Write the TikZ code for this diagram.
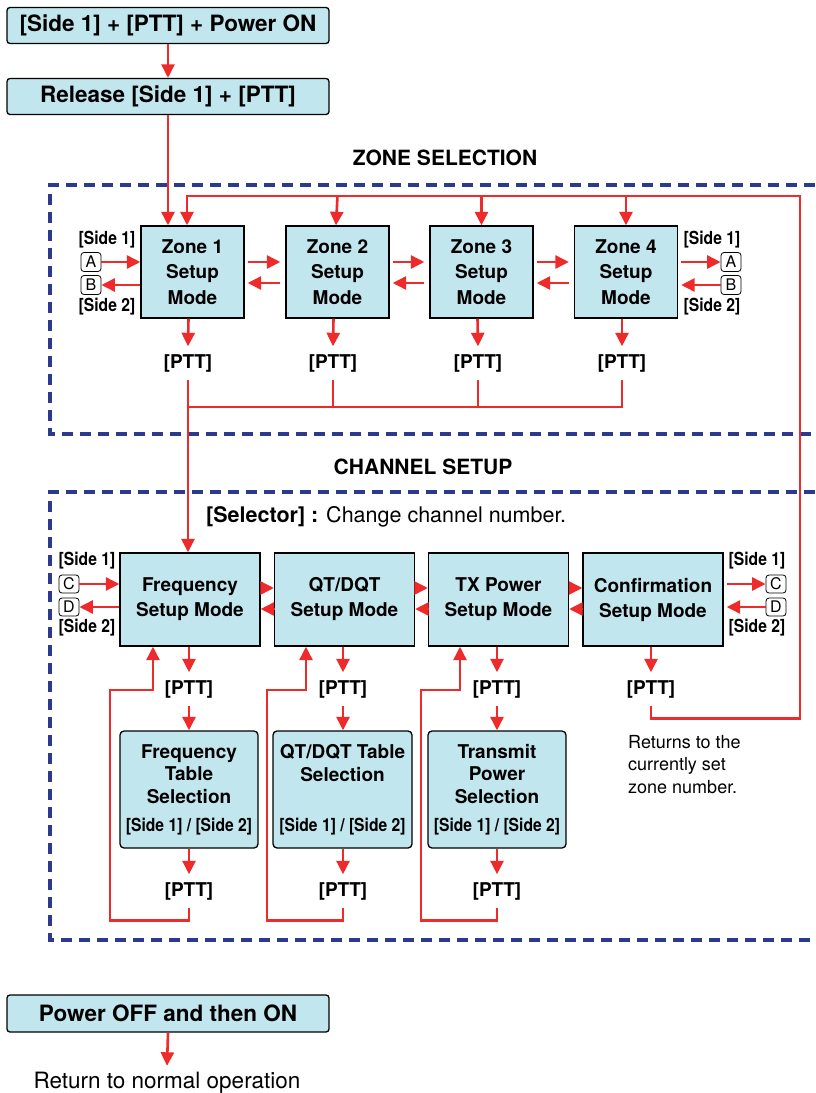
\documentclass[tikz,border=0pt]{standalone}
\usepackage{fontspec}
\setmainfont{TeX Gyre Heros}
\newfontfamily\condfont[FakeStretch=0.87]{TeX Gyre Heros}
\usetikzlibrary{arrows.meta,calc}
\definecolor{boxfill}{HTML}{C2E6EE}
\definecolor{arrred}{HTML}{EE2A2A}
\definecolor{dashblue}{HTML}{2B3A8F}
\begin{document}
\begin{tikzpicture}[x=1pt,y=-1pt,
  arr/.style={draw=arrred, line width=2.6pt, -{Triangle[length=13.5pt,width=13pt]}},
  ln/.style={draw=arrred, line width=2.6pt},
  frame/.style={draw=dashblue, line width=3.2pt, dash pattern=on 11pt off 7pt},
  topbox/.style={draw=black, line width=1.3pt, fill=boxfill, rounded corners=3pt, minimum width=322pt, minimum height=36pt, inner sep=0pt, font=\fontsize{22.5}{26}\selectfont\bfseries},
  zonebox/.style={draw=black, line width=1.3pt, fill=boxfill, minimum width=103pt, minimum height=92pt, inner sep=0pt, align=center, font=\fontsize{19}{25.5}\selectfont\bfseries},
  chbox/.style={draw=black, line width=1.3pt, fill=boxfill, minimum width=140pt, minimum height=93pt, inner sep=0pt, align=center, font=\fontsize{19}{25}\selectfont\bfseries},
  tabbox/.style={draw=black, line width=1.3pt, fill=boxfill, rounded corners=4pt, minimum width=138pt, minimum height=117pt, inner sep=0pt},
  tabtxt/.style={align=center, inner sep=0pt, font=\fontsize{19}{22.5}\selectfont\bfseries},
  sidetxt/.style={inner sep=0pt, font=\fontsize{18}{20}\selectfont\condfont\bfseries},
  keybox/.style={draw=black, line width=0.8pt, rounded corners=3pt, minimum width=20pt, minimum height=19pt, inner sep=0pt, font=\fontsize{16}{18}\selectfont},
  ptt/.style={inner sep=0pt, minimum height=33pt, font=\fontsize{19}{22}\selectfont\bfseries},
  title/.style={inner sep=0pt, font=\fontsize{21}{24}\selectfont\bfseries},
  plain/.style={inner sep=0pt, font=\fontsize{18}{22.5}\selectfont}
]
\useasboundingbox (0,0) rectangle (815,1093);

% frames
\draw[frame] (815,185) -- (50,185) -- (50,434) -- (815,434);
\draw[frame] (815,492) -- (50,492) -- (50,940) -- (815,940);

% top boxes
\node[topbox] (t1) at (168,25.5) {[Side 1] + [PTT] + Power ON};
\node[topbox] (t2) at (168,96.5) {Release [Side 1] + [PTT]};
\draw[arr] (t1.south) -- (t2.north);

\node[title] (zt) at (445,158) {ZONE SELECTION};

% zones
\node[zonebox] (z1) at (192.5,272) {Zone 1\\Setup\\Mode};
\node[zonebox] (z2) at (337.5,272) {Zone 2\\Setup\\Mode};
\node[zonebox] (z3) at (481.5,272) {Zone 3\\Setup\\Mode};
\node[zonebox] (z4) at (626,272) {Zone 4\\Setup\\Mode};

\draw[arr] (t2.south) -- (t2.south |- z1.north);

\foreach \a/\b in {z1/z2,z2/z3,z3/z4}{
  \draw[arr, shorten <=3pt, shorten >=5pt] ([yshift=10pt]\a.east) -- ([yshift=10pt]\b.west);
  \draw[arr, shorten <=5pt, shorten >=3pt] ([yshift=-11pt]\b.west) -- ([yshift=-11pt]\a.east);
}

% zone side keys
\node[sidetxt] (s1a) at (107,240) {[Side 1]};
\node[keybox] (ka1) at (91,262) {A};
\node[keybox] (kb1) at (91,285) {B};
\node[sidetxt] (s2a) at (107,307) {[Side 2]};
\draw[arr] (ka1.east) -- (ka1.east -| z1.west);
\draw[arr] (kb1.east -| z1.west) -- (kb1.east);

\node[sidetxt] (s1b) at (712,240) {[Side 1]};
\node[keybox] (ka4) at (731,262) {A};
\node[keybox] (kb4) at (731,285) {B};
\node[sidetxt] (s2b) at (712,307) {[Side 2]};
\draw[arr, shorten <=3pt] (ka4.west -| z4.east) -- (ka4.west);
\draw[arr, shorten >=3pt] (kb4.west) -- (kb4.west -| z4.east);

% zone PTT
\node[ptt] (p1) at (188,363) {[PTT]};
\node[ptt] (p2) at (333,363) {[PTT]};
\node[ptt] (p3) at (478,363) {[PTT]};
\node[ptt] (p4) at (622,363) {[PTT]};
\draw[arr] ([xshift=-4pt]z1.south) -- (p1.north);
\draw[arr] ([xshift=-4pt]z2.south) -- (p2.north);
\draw[arr] ([xshift=-4pt]z3.south) -- (p3.north);
\draw[arr] ([xshift=-4pt]z4.south) -- (p4.north);
\coordinate (zbus) at (188,407);
\draw[ln] (p4.south) |- (zbus);
\draw[ln] (p2.south) -- (p2.south |- zbus);
\draw[ln] (p3.south) -- (p3.south |- zbus);

% channel
\node[title] (ct) at (423,467) {CHANNEL SETUP};
\node[inner sep=0pt, anchor=west, font=\fontsize{21.5}{24}\selectfont] (sel) at (206,517) {\textbf{[Selector] :} Change channel number.};

\node[chbox] (f) at (190,599.5) {Frequency\\Setup Mode};
\node[chbox] (q) at (344.5,599.5) {QT/DQT\\Setup Mode};
\node[chbox] (tx) at (498.5,599.5) {TX Power\\Setup Mode};
\node[chbox] (cf) at (653,599.5) {Confirmation\\Setup Mode};

\draw[arr] (p1.south) -- (p1.south |- f.north);

\foreach \a/\b in {f/q,q/tx,tx/cf}{
  \draw[arr] ([yshift=11.5pt]\a.east) -- ([yshift=11.5pt]\b.west);
  \draw[arr] ([yshift=-9.5pt]\b.west) -- ([yshift=-9.5pt]\a.east);
}

% channel side keys
\node[sidetxt] (cs1a) at (87,561) {[Side 1]};
\node[keybox, minimum height=18pt] (kc1) at (69,584) {C};
\node[keybox, minimum height=18pt] (kd1) at (69,607) {D};
\node[sidetxt] (cs2a) at (87,628) {[Side 2]};
\draw[arr] (kc1.east) -- (kc1.east -| f.west);
\draw[arr] (kd1.east -| f.west) -- (kd1.east);

\node[sidetxt] (cs1b) at (757,561) {[Side 1]};
\node[keybox, minimum height=18pt] (kc4) at (776,584) {C};
\node[keybox, minimum height=18pt] (kd4) at (776,607) {D};
\node[sidetxt] (cs2b) at (757,628) {[Side 2]};
\draw[arr, shorten <=3pt] (kc4.west -| cf.east) -- (kc4.west);
\draw[arr, shorten >=3pt] (kd4.west) -- (kd4.west -| cf.east);

% channel PTT
\node[ptt] (fp) at (189,689) {[PTT]};
\node[ptt] (qp) at (343,689) {[PTT]};
\node[ptt] (tp) at (497,689) {[PTT]};
\node[ptt] (cp) at (651,689) {[PTT]};
\draw[arr] (f.south -| fp) -- (fp.north);
\draw[arr] (q.south -| qp) -- (qp.north);
\draw[arr] (tx.south -| tp) -- (tp.north);
\draw[arr] (cf.south -| cp) -- (cp.north);

% table boxes
\node[tabbox] (tf) at (189,789.5) {};
\node[tabbox, minimum width=139pt] (tq) at (342.5,789.5) {};
\node[tabbox] (tt) at (497,789.5) {};
\node[tabtxt] (tf1) at (189,774) {Frequency\\Table\\Selection};
\node[tabtxt] (tq1) at (342.5,763) {QT/DQT Table\\Selection};
\node[tabtxt] (tt1) at (497,774) {Transmit\\Power\\Selection};
\node[sidetxt] (tf2) at (189,827) {[Side 1] / [Side 2]};
\node[sidetxt] (tq2) at (342.5,827) {[Side 1] / [Side 2]};
\node[sidetxt] (tt2) at (497,827) {[Side 1] / [Side 2]};

\draw[arr] (fp.south) -- (fp.south |- tf.north);
\draw[arr] (qp.south) -- (qp.south |- tq.north);
\draw[arr] (tp.south) -- (tp.south |- tt.north);

\node[ptt] (fp2) at (189,891) {[PTT]};
\node[ptt] (qp2) at (343,891) {[PTT]};
\node[ptt] (tp2) at (497,891) {[PTT]};
\draw[arr] (tf.south -| fp2) -- (fp2.north);
\draw[arr] (tq.south -| qp2) -- (qp2.north);
\draw[arr] (tt.south -| tp2) -- (tp2.north);

% return loops
\coordinate (fl) at (110,690);
\coordinate (ql) at (267,690);
\coordinate (tl) at (421,690);
\draw[arr] (fp2.south) -- ++(0,13) -| (fl) -| ([xshift=-37pt]f.south);
\draw[arr] (qp2.south) -- ++(0,13) -| (ql) -| ([xshift=-38.5pt]q.south);
\draw[arr] (tp2.south) -- ++(0,13) -| (tl) -| ([xshift=-38.5pt]tx.south);

% confirmation return to zone loop
\coordinate (lp) at (800,196);
\draw[arr] (cp.south) -- ++(0,13) -| (lp) -| ([xshift=-5.5pt]z1.north);
\draw[arr] (z2.north |- lp) -- ([xshift=-1.5pt]z2.north);
\draw[arr] (z3.north |- lp) -- (z3.north);
\draw[arr] (z4.north |- lp) -- (z4.north);

\node[plain, anchor=north west, align=left] (ret) at (628,735) {Returns to the\\currently set\\zone number.};

% bottom
\node[topbox, minimum height=37pt] (pw) at (168,1013.5) {Power OFF and then ON};
\node[inner sep=0pt, minimum height=34pt, font=\fontsize{22.5}{24}\selectfont] (rn) at (167,1083) {Return to normal operation};
\draw[arr] (pw.south) -- (rn.north);
\end{tikzpicture}
\end{document}
